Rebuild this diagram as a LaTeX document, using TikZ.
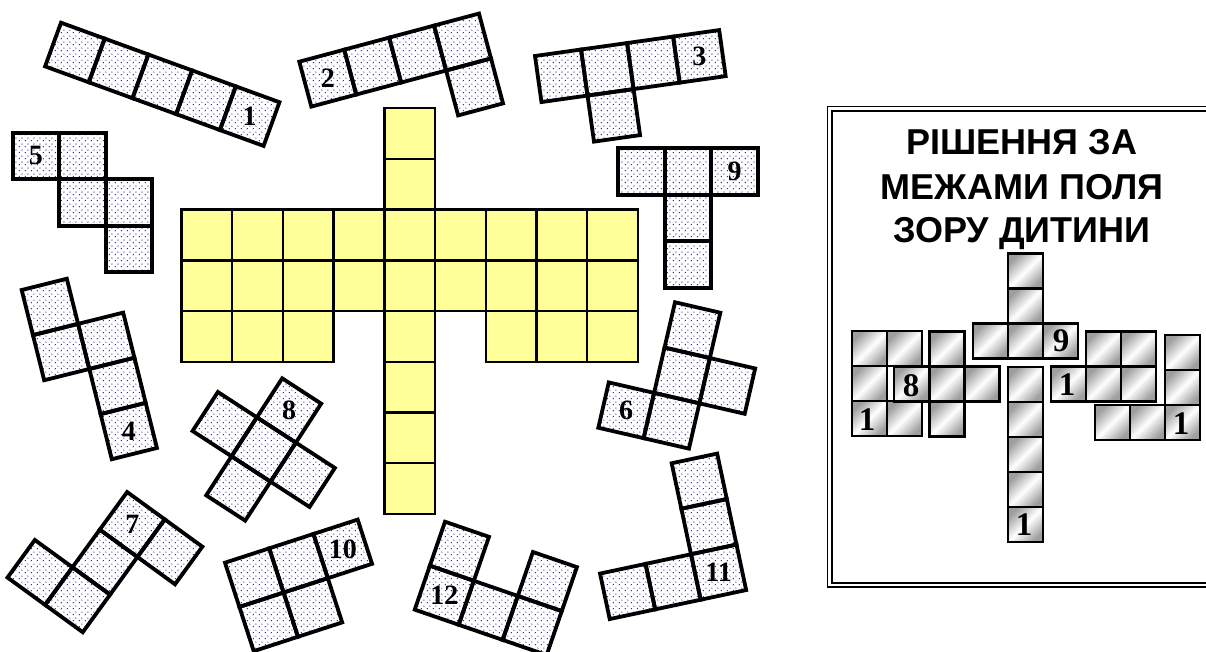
\documentclass[tikz,border=0pt]{standalone}
\usepackage{fontspec}
\setmainfont{Liberation Serif}
\newfontfamily\titlefont{Liberation Sans}
\usetikzlibrary{patterns.meta}
\definecolor{dotblue}{RGB}{30,30,170}
\definecolor{lyellow}{RGB}{255,255,153}
\tikzdeclarepattern{
  name=bdots,
  type=colored,
  bottom left={(0pt,0pt)},
  top right={(6pt,6pt)},
  tile size={(6pt,6pt)},
  code={
    \fill[dotblue] (1.5pt,1.5pt) circle (0.75pt);
    \fill[dotblue] (4.5pt,4.5pt) circle (0.75pt);
  }
}
\newcommand\sqa{46.5}
% #1 name, #2 origin, #3 angle, #4 cells, #5 label col, #6 label row, #7 text
\newcommand\pent[7]{%
  \begin{scope}[shift={#2},rotate=#3]
    \foreach \cc/\rr in {#4}{%
      \fill[pattern=bdots] ({\cc*\sqa},{\rr*\sqa}) -- ({(\cc+1)*\sqa},{\rr*\sqa}) -- ({(\cc+1)*\sqa},{(\rr+1)*\sqa}) -- ({\cc*\sqa},{(\rr+1)*\sqa}) -- cycle;}
    \foreach \cc/\rr in {#4}{%
      \draw[pborder] ({\cc*\sqa},{\rr*\sqa}) -- ({(\cc+1)*\sqa},{\rr*\sqa}) -- ({(\cc+1)*\sqa},{(\rr+1)*\sqa}) -- ({\cc*\sqa},{(\rr+1)*\sqa}) -- cycle;}
    \node[plabel] (#1) at ({(#5+0.5)*\sqa},{(#6+0.5)*\sqa}) {#7};
  \end{scope}}
\begin{document}
\begin{tikzpicture}[x=1pt,y=-1pt,
  pborder/.style={draw=black,line width=3.8pt,line join=miter},
  plabel/.style={font=\bfseries\fontsize{28}{28}\selectfont,inner sep=0pt},
  ycell/.style={fill=lyellow},
  yborder/.style={draw=black,line width=2.4pt},
  pshade/.style={top color=black!38,bottom color=black!38,middle color=white,shading angle=45},
  pcborder/.style={draw=black,line width=2.3pt},
  slabel/.style={font=\bfseries\fontsize{33}{33}\selectfont,inner sep=0pt},
  ttl/.style={font=\titlefont\bfseries\fontsize{36}{40}\selectfont,anchor=base,inner sep=0pt},
  frameline/.style={draw=black,line width=2pt}]
\useasboundingbox (0,0) rectangle (1206,652);
\fill[white] (0,0) rectangle (1206,652);

% ---------- yellow dragonfly board ----------
\def\ys{50.7}
\def\ycells{4/-2,4/-1,0/0,1/0,2/0,3/0,4/0,5/0,6/0,7/0,8/0,0/1,1/1,2/1,3/1,4/1,5/1,6/1,7/1,8/1,0/2,1/2,2/2,4/2,6/2,7/2,8/2,4/3,4/4,4/5}
\begin{scope}[shift={(181.5,209.7)}]
  \foreach \cc/\rr in \ycells {\fill[ycell] ({\cc*\ys},{\rr*\ys}) rectangle ({(\cc+1)*\ys},{(\rr+1)*\ys});}
  \foreach \cc/\rr in \ycells {\draw[yborder] ({\cc*\ys},{\rr*\ys}) rectangle ({(\cc+1)*\ys},{(\rr+1)*\ys});}
\end{scope}

% ---------- pentomino pieces ----------
\pent{n1}{(61,22.7)}{-20}{0/0,1/0,2/0,3/0,4/0}{4}{0}{1}
\pent{n2}{(299.3,61.7)}{15}{0/0,1/0,2/0,3/0,3/1}{0}{0}{2}
\pent{n3}{(535,56)}{8}{0/0,1/0,2/0,3/0,1/1}{3}{0}{3}
\pent{n4}{(21.7,290)}{14}{0/0,0/1,1/1,1/2,1/3}{1}{3}{4}
\pent{n5}{(12.7,132.7)}{0}{0/0,1/0,1/1,2/1,2/2}{0}{0}{5}
\pent{n6}{(629.7,291.8)}{-13}{1/0,1/1,2/1,1/2,0/2}{0}{2}{6}
\pent{n7}{(89.5,464.7)}{-36}{1/0,2/0,1/1,1/2,0/2}{1}{0}{7}
\pent{n8}{(243.2,353)}{-33}{1/0,0/1,1/1,2/1,1/2}{1}{0}{8}
\pent{n9}{(618.3,148.3)}{0}{0/0,1/0,2/0,1/1,1/2}{2}{0}{9}
\pent{n10}{(225,562.7)}{18}{0/0,1/0,2/0,0/1,1/1}{2}{0}{10}
\pent{n11}{(580.7,482.6)}{12}{2/0,2/1,2/2,0/2,1/2}{2}{2}{11}
\pent{n12}{(445,521.7)}{-19}{0/0,0/1,1/1,2/1,2/0}{0}{1}{12}

% ---------- solution panel ----------
\draw[frameline,line width=1.8pt] (1206,106.5) -- (827.5,106.5) -- (827.5,587) -- (1206,587);
\draw[frameline,line width=2.2pt] (1206,110.8) -- (831.8,110.8) -- (831.8,582.8) -- (1206,582.8);

\node[ttl] (t1) at (1022,155) {РІШЕННЯ ЗА};
\node[ttl] (t2) at (1022,199.5) {МЕЖАМИ ПОЛЯ};
\node[ttl] (t3) at (1022,243) {ЗОРУ ДИТИНИ};

\def\pc{35}
\def\scells{1008/253.5,1008/288.5,973/323.5,1008/323.5,1043/323.5,1008/367,1008/402,1008/437,1008/472,1008/507,852/331,887/331,852/366,852/401,887/401,929.5/331.5,894/366.5,929.5/366.5,964.5/366.5,929.5/401.5,1051/366.5,1086/331.5,1121/331.5,1086/366.5,1121/366.5,1165/335,1165/370,1165/405,1095/405,1130/405}
\foreach \px/\py in \scells {\path[pshade] (\px,\py) rectangle ++(\pc,\pc);}
\foreach \px/\py in \scells {\draw[pcborder] (\px,\py) rectangle ++(\pc,\pc);}

\node[slabel] (s9) at (1061,341) {9};
\node[slabel] (s1a) at (1024,525) {1};
\node[slabel] (s8) at (911,386) {8};
\node[slabel] (s1b) at (867,420) {1};
\node[slabel] (s1c) at (1067,385) {1};
\node[slabel] (s1d) at (1181,424) {1};
\end{tikzpicture}
\end{document}
